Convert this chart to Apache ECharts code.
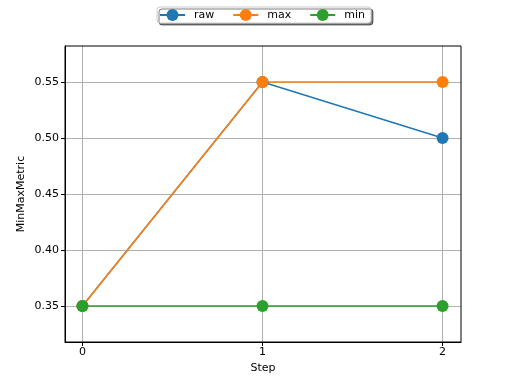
<!DOCTYPE html>
<html><head><meta charset="utf-8">
<script src="https://cdn.jsdelivr.net/npm/echarts@6/dist/echarts.min.js"></script>
<style>html,body{margin:0;padding:0;background:#fff}#c{width:512px;height:384px}</style>
</head><body><div id="c"></div>
<script>
const steps = [0, 1, 2];
const rawVals = [0.35, 0.55, 0.50];
const maxVals = [0.35, 0.55, 0.55];
const minVals = [0.35, 0.35, 0.35];
const xTicks = [0, 1, 2];
const yTicks = [0.35, 0.40, 0.45, 0.50, 0.55];

const font = 'DejaVu Sans';
const chart = echarts.init(document.getElementById('c'), null, {renderer: 'canvas'});
function mk(name, vals, color) {
  return {
    name, type: 'line', data: steps.map((s, i) => [s, vals[i]]),
    symbol: 'circle', symbolSize: 12, showSymbol: true,
    lineStyle: {color, width: 1.5}, itemStyle: {color},
    emphasis: {disabled: true}, animation: false
  };
}
chart.setOption({
  animation: false,
  textStyle: {fontFamily: font},
  grid: {left: 65, right: 51, top: 46, bottom: 42, containLabel: false},
  legend: {
    data: ['raw', 'max', 'min'], top: 7, left: 157,
    itemWidth: 25, itemHeight: 15, itemGap: 18,
    textStyle: {fontFamily: font, fontSize: 11, color: '#000', padding: [0, 0, 0, 4]},
    borderColor: '#cccccc', borderWidth: 1, borderRadius: 3,
    backgroundColor: '#fff', padding: [2, 6, 2, 2],
    shadowColor: 'rgba(0,0,0,0.5)', shadowOffsetX: 2, shadowOffsetY: 2, shadowBlur: 0
  },
  xAxis: {
    type: 'value', min: -0.097, max: 2.1025,
    name: 'Step', nameLocation: 'middle', nameGap: 21, nameMoveOverlap: false,
    nameTextStyle: {fontFamily: font, fontSize: 11, color: '#000'},
    axisLine: {show: true, onZero: false, lineStyle: {color: '#000', width: 1}},
    axisTick: {show: true, customValues: xTicks, length: 4, lineStyle: {color: '#000'}},
    axisLabel: {customValues: xTicks, fontFamily: font, fontSize: 11, color: '#000', margin: 5, formatter: v => String(v)},
    splitLine: {show: true, lineStyle: {color: '#b0b0b0', width: 1}}
  },
  yAxis: {
    type: 'value', min: 0.3179, max: 0.5821,
    name: 'MinMaxMetric', nameLocation: 'middle', nameGap: 38, nameMoveOverlap: false,
    nameTextStyle: {fontFamily: font, fontSize: 11, color: '#000'},
    axisLine: {show: true, onZero: false, lineStyle: {color: '#000', width: 1}},
    axisTick: {show: true, customValues: yTicks, length: 4, lineStyle: {color: '#000'}},
    axisLabel: {customValues: yTicks, fontFamily: font, fontSize: 11, color: '#000', margin: 6, formatter: v => v.toFixed(2)},
    splitLine: {show: true, lineStyle: {color: '#b0b0b0', width: 1}}
  },
  series: [
    mk('raw', rawVals, '#1f77b4'),
    mk('max', maxVals, '#ff7f0e'),
    mk('min', minVals, '#2ca02c'),
    {
      type: 'line', data: [], silent: true,
      markArea: {silent: true, itemStyle: {color: 'rgba(0,0,0,0)', borderColor: '#000', borderWidth: 1},
        data: [[{xAxis: -0.097, yAxis: 0.3179}, {xAxis: 2.1025, yAxis: 0.5821}]]}
    }
  ]
});
</script></body></html>
